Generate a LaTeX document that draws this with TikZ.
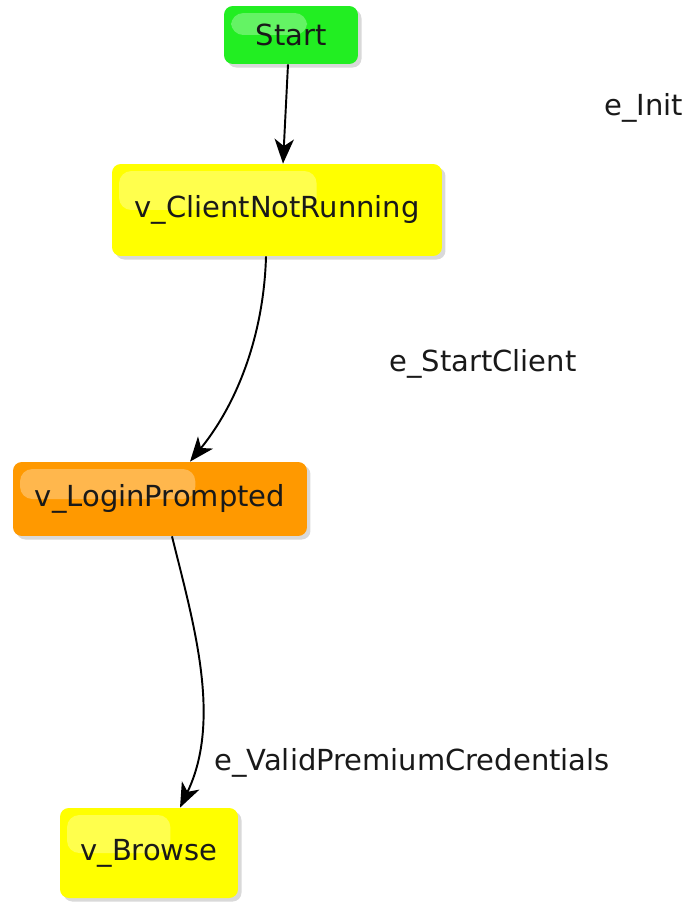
\documentclass[tikz,border=0pt]{standalone}
\usepackage{fontspec}
\setmainfont{DejaVu Sans}
\usetikzlibrary{arrows.meta,shadows,calc}

\definecolor{startgreen}{HTML}{22EE22}
\definecolor{stateyellow}{HTML}{FFFF00}
\definecolor{stateorange}{HTML}{FF9900}

\begin{document}
\begin{tikzpicture}[x=0.02cm,y=-0.02cm,
    state/.style={rounded corners=5pt, font=\fontsize{16.5}{18}\selectfont,
        text=black!90, drop shadow={shadow xshift=2pt,shadow yshift=-2pt,opacity=0.3},
        path picture={\path let \p1=(path picture bounding box.north west),
                \p2=(path picture bounding box.south east) in
            [fill=white,fill opacity=0.3,rounded corners=7pt]
            ({\x1+4pt},{\y1-4pt}) rectangle ({\x1+0.62*(\x2-\x1)},{0.5*(\y1+\y2)});}},
    elabel/.style={font=\fontsize{16.5}{18}\selectfont, text=black!90},
    trans/.style={line width=1.1pt, -{Stealth[length=14pt,width=11pt,inset=4pt]}}]
    \useasboundingbox (0,0) rectangle (689,902);
    % states
    \node[state, fill=startgreen, minimum width=2.68cm, minimum height=1.16cm] (start) at (291,35) {Start};
    \node[state, fill=stateyellow, minimum width=6.6cm, minimum height=1.84cm] (clientnotrunning) at (277,210) {v\_ClientNotRunning};
    \node[state, fill=stateorange, minimum width=5.88cm, minimum height=1.48cm] (loginprompted) at (160,499) {v\_LoginPrompted};
    \node[state, fill=stateyellow, minimum width=3.56cm, minimum height=1.8cm] (browse) at (149,853) {v\_Browse};
    % edge labels
    \node[elabel] (einit) at (644,108) {e\_Init};
    \node[elabel] (estartclient) at (483,364) {e\_StartClient};
    \node[elabel] (evalidpremium) at (412,763) {e\_ValidPremiumCredentials};
    % transitions
    \draw[trans] ([shift={(-3,0)}]start.south) -- ([shift={(6,0)}]clientnotrunning.north);
    \draw[trans] ([shift={(-11,0)}]clientnotrunning.south) .. controls (264,330) and (240,400) .. ([shift={(30,0)}]loginprompted.north);
    \draw[trans] ([shift={(12,0)}]loginprompted.south) .. controls (194,625) and (222,720) .. ([shift={(31,0)}]browse.north);
\end{tikzpicture}
\end{document}
